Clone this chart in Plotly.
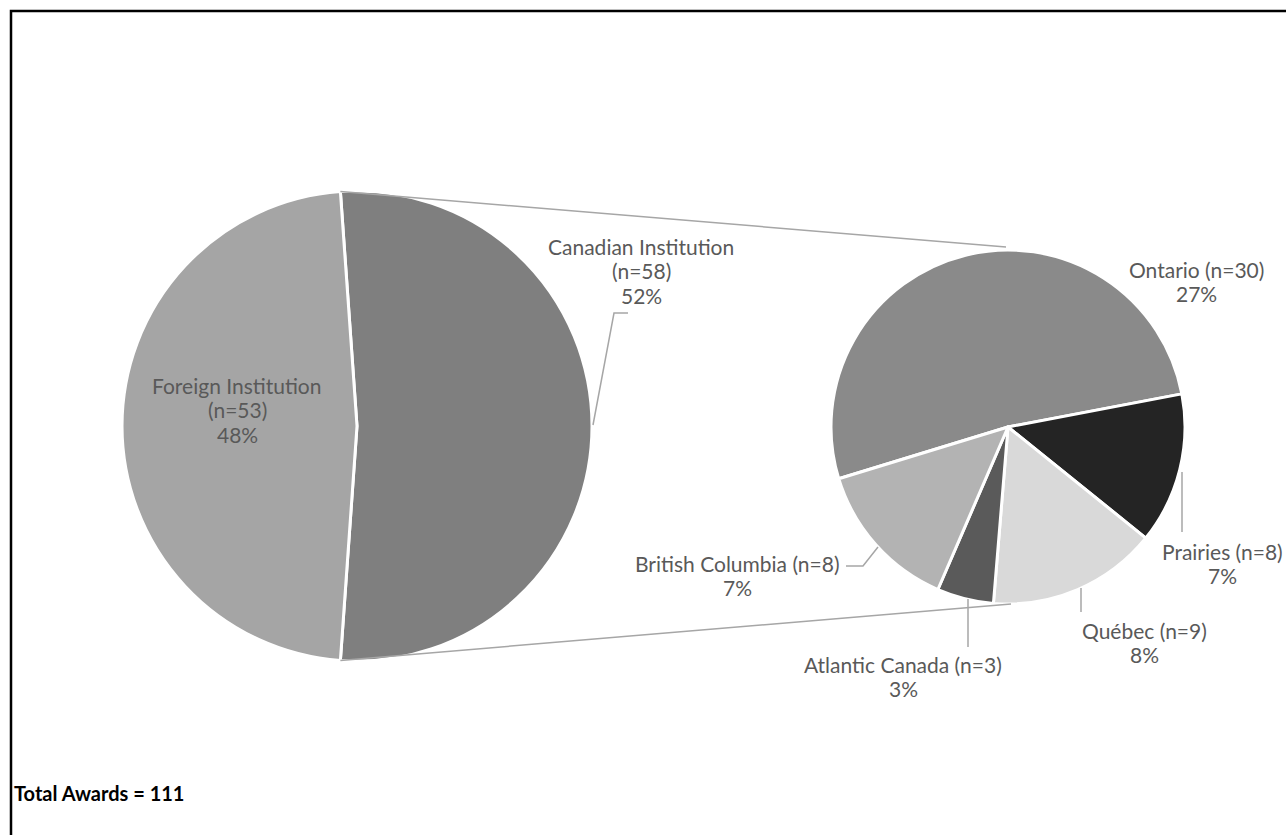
import math
import plotly.graph_objects as go

W, H = 1286, 835

# ---- data ----
outer_labels = ["Canadian Institution", "Foreign Institution"]
outer_values = [58, 53]
outer_colors = ["#7F7F7F", "#A5A5A5"]

inner_labels = ["Ontario", "Prairies", "Québec", "Atlantic Canada", "British Columbia"]
inner_values = [30, 8, 9, 3, 8]
inner_colors = ["#8A8A8A", "#242424", "#D9D9D9", "#5A5A5A", "#B3B3B3"]

total = sum(outer_values)

# ---- geometry (pixels) ----
L_CX, L_CY, L_R = 357, 426, 235
R_CX, R_CY, R_R = 1008, 427, 177


def px(x):
    return x / W


def py(y):
    return 1 - y / H


can_share = outer_values[0] / total
left_rot = 90 - can_share * 360 / 2
right_rot = 253

fig = go.Figure()
fig.add_trace(go.Pie(
    labels=outer_labels, values=outer_values, sort=False, direction="clockwise",
    rotation=left_rot, textinfo="none", hoverinfo="label+value+percent",
    marker=dict(colors=outer_colors, line=dict(color="white", width=3)),
    domain=dict(x=[px(L_CX - L_R), px(L_CX + L_R)], y=[py(L_CY + L_R), py(L_CY - L_R)]),
    showlegend=False,
))
fig.add_trace(go.Pie(
    labels=inner_labels, values=inner_values, sort=False, direction="clockwise",
    rotation=right_rot, textinfo="none", hoverinfo="label+value",
    marker=dict(colors=inner_colors, line=dict(color="white", width=3)),
    domain=dict(x=[px(R_CX - R_R), px(R_CX + R_R)], y=[py(R_CY + R_R), py(R_CY - R_R)]),
    showlegend=False,
))

shapes = []
# frame (only left/top visible in the crop)
shapes.append(dict(type="rect", xref="paper", yref="paper", x0=px(11), y0=py(900), x1=px(1350), y1=py(11),
                   line=dict(color="black", width=2.5), fillcolor="rgba(0,0,0,0)", layer="above"))

# connector lines between pies (from the Canadian slice boundaries)
a_start = math.radians(left_rot)
a_end = math.radians(left_rot + can_share * 360)
top_pt = (L_CX + L_R * math.sin(a_start), L_CY - L_R * math.cos(a_start))
bot_pt = (L_CX + L_R * math.sin(a_end), L_CY - L_R * math.cos(a_end))
for (x0, y0), (x1, y1) in [(top_pt, (R_CX - 2, R_CY - R_R - 3)), (bot_pt, (R_CX + 3, R_CY + R_R))]:
    shapes.append(dict(type="line", xref="paper", yref="paper", x0=px(x0), y0=py(y0), x1=px(x1), y1=py(y1),
                       line=dict(color="#A6A6A6", width=1.5)))

# leader lines
leaders = [
    [(593, 425), (614, 313), (628, 313)],      # Canadian
    [(878, 547), (863, 566), (846, 566)],      # BC
    [(1182, 472), (1182, 532)],                # Prairies
    [(1081, 588), (1081, 612)],                # Québec
    [(968, 599), (968, 647)],                  # Atlantic
]
for pts in leaders:
    path = "M " + " L ".join(f"{px(x):.5f},{py(y):.5f}" for x, y in pts)
    shapes.append(dict(type="path", xref="paper", yref="paper", path=path,
                       line=dict(color="#A6A6A6", width=1.5)))

fig.update_layout(shapes=shapes)

TXT = "#595959"
FONT = "Lato"
FS = 21
LINE = 24.5


def pct(v):
    return f"{round(v / total * 100)}%"


label_pos = {
    "Canadian Institution": (641, 246),
    "Foreign Institution": (237, 385),
    "Ontario": (1196, 269),
    "Prairies": (1222, 551),
    "Québec": (1144, 630),
    "Atlantic Canada": (903, 664),
    "British Columbia": (737, 563),
}


def add_label(lines, x, y):
    for i, t in enumerate(lines):
        fig.add_annotation(x=px(x), y=py(y + i * LINE), xref="paper", yref="paper", showarrow=False,
                           xanchor="center", yanchor="middle", text=t,
                           font=dict(family=FONT, size=FS, color=TXT))


for lab, val in zip(outer_labels, outer_values):
    x, y = label_pos[lab]
    add_label([lab, f"(n={val})", pct(val)], x, y)
for lab, val in zip(inner_labels, inner_values):
    x, y = label_pos[lab]
    add_label([f"{lab} (n={val})", pct(val)], x, y)

fig.add_annotation(x=px(12), y=py(793), xref="paper", yref="paper", showarrow=False,
                   xanchor="left", yanchor="middle", text=f"<b>Total Awards = {total}</b>",
                   font=dict(family=FONT, size=20, color="black"))

fig.update_layout(width=W, height=H, margin=dict(l=0, r=0, t=0, b=0),
                  paper_bgcolor="white", plot_bgcolor="white")
fig.write_html("out.html", config={"displayModeBar": False},
               post_script="document.body.style.margin='0px';")
